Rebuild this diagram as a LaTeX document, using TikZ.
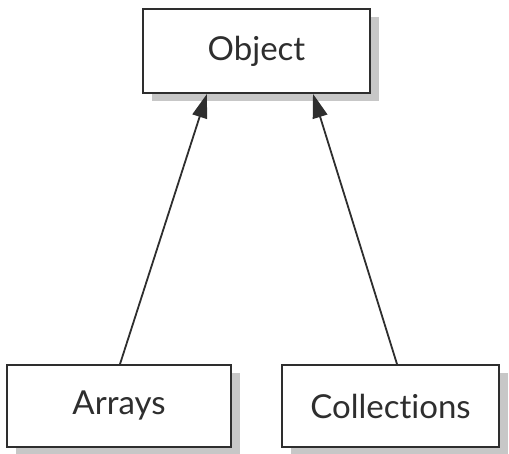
\documentclass[tikz,border=0pt]{standalone}
\usepackage{fontspec}
\setmainfont{Lato}[Ligatures=NoCommon]
\usetikzlibrary{arrows.meta,shadows}
\definecolor{ink}{HTML}{2E2E2E}
\tikzset{
  cls/.style={draw=ink, line width=1.8pt, fill=white, minimum height=82pt,
    inner sep=0pt, font=\fontsize{33}{38}\selectfont, text=ink,
    drop shadow={shadow xshift=9pt, shadow yshift=-8pt, fill=black!22, opacity=1}},
  arr/.style={draw=ink, line width=1.8pt, -{Triangle[length=24pt,width=15pt]}}
}
\begin{document}
\begin{tikzpicture}[x=1pt,y=1pt]
\useasboundingbox (0,0) rectangle (509,454);
\node[cls, minimum width=227pt, minimum height=84pt] (O) at (256.5,403) {Object};
\node[cls, minimum width=224pt] (A) at (119,48) {Arrays};
\node[cls, minimum width=217pt] (C) at (390.5,48) {Collections};
\draw[arr] ([xshift=1pt]A.north) -- ([xshift=-49.5pt]O.south);
\draw[arr] ([xshift=6.5pt]C.north) -- ([xshift=56.5pt]O.south);
\end{tikzpicture}
\end{document}
